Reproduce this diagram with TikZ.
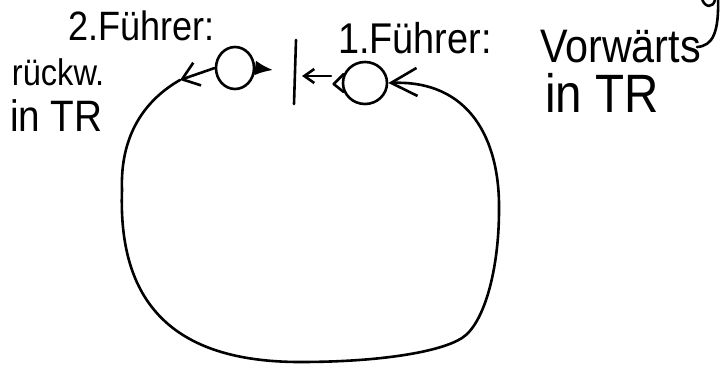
\documentclass[tikz,border=0pt]{standalone}
\usepackage{fontspec}
\setmainfont[FakeStretch=0.88]{Liberation Sans}
\usetikzlibrary{arrows.meta,shapes.geometric}
\begin{document}
\begin{tikzpicture}[x=1pt,y=-1pt,
  ink/.style={line width=2.6pt, line cap=round, line join=round},
  lbl/.style={anchor=base west, inner sep=0pt, outer sep=0pt},
  ring/.style={ink, draw, ellipse, inner sep=0pt}]
\useasboundingbox (0,0) rectangle (728,364);
% texts
\node[lbl, font=\fontsize{41}{44}\selectfont] (f2) at (68,40) {2.Führer:};
\node[lbl, font=\fontsize{37}{40}\selectfont] (rw) at (12,85) {rückw.};
\node[lbl, font=\fontsize{44}{48}\selectfont] (trl) at (10,131) {in TR};
\node[lbl, font=\fontsize{43}{46}\selectfont] (f1) at (338,53) {1.Führer:};
\node[lbl, font=\fontsize{47}{50}\selectfont] (vw) at (540,62) {Vorwärts};
\node[lbl, font=\fontsize{54}{58}\selectfont] (trr) at (545,112) {in TR};
% circles
\node[ring, minimum width=38pt, minimum height=42pt] (c2) at (235,68) {};
\node[ring, minimum width=44pt, minimum height=42pt] (c1) at (365,83) {};
% coordinates
\coordinate (t2) at (180,80);
\coordinate (c2tip) at (273,70);
\coordinate (bartop) at (296,40);
\coordinate (barbot) at (294,104);
\coordinate (lt) at (302,76);
\coordinate (ls) at (331,76);
\coordinate (tr0) at (718,-2);
\coordinate (tr1) at (697,47);
% connectors
\draw[ink, -{Latex[length=18pt,width=15pt]}] (c2.east) -- (c2tip);
\draw[ink, -{Straight Barb[length=16pt,width=24pt]}] (c2.west) -- (t2);
\draw[ink] (bartop) -- (barbot);
\draw[ink, -{Straight Barb[length=10pt,width=14pt]}] (ls) -- (lt);
\draw[ink] ([shift={(2,-9)}]c1.west) -- ([shift={(-8,1)}]c1.west) -- ([shift={(2,9)}]c1.west);
\draw[ink, -{Straight Barb[length=26pt,width=28pt]}] (t2)
  .. controls (145,100) and (120,135) .. (122,190)
  .. controls (118,300) and (170,362) .. (300,362)
  .. controls (380,362) and (440,352) .. (462,338)
  .. controls (484,324) and (499,270) .. (499,210)
  .. controls (500,140) and (470,80) .. (c1.east);
\draw[ink] (tr0) .. controls (719,32) and (713,46) .. (tr1);
\draw[ink] (702,-1) .. controls (705,8) and (713,8) .. (715,0);
\end{tikzpicture}
\end{document}
